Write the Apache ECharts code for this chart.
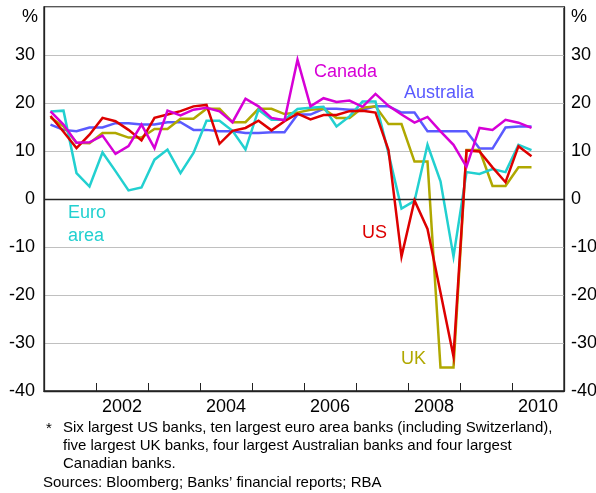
<!DOCTYPE html>
<html>
<head>
<meta charset="utf-8">
<script src="https://cdn.jsdelivr.net/npm/echarts@6/dist/echarts.min.js"></script>
<style>
  html, body { margin: 0; padding: 0; background: #fff; }
  #chart { width: 596px; height: 493px; }
</style>
</head>
<body>
<div id="chart"></div>
<script>
// Return on equity of large banks, quarterly, per cent
const years = ['2001', '2002', '2003', '2004', '2005', '2006', '2007', '2008', '2009', '2010'];
const quarters = [];
years.forEach(y => { for (let q = 1; q <= 4; q++) quarters.push(y + ' Q' + q); });

const australia = [15.5, 14.4, 14.1, 14.9, 14.9, 15.8, 15.8, 15.5, 15.5, 16.0, 16.0, 14.4, 14.4, 14.1, 14.1, 13.75, 13.75, 13.9, 13.9, 17.6,
  17.6, 18.8, 18.8, 18.6, 18.6, 19.3, 19.3, 18.0, 18.0, 14.1, 14.1, 14.1, 14.1, 10.5, 10.5, 14.9, 15.1, 15.1];
const uk = [17.0, 15.1, 11.7, 11.6, 13.75, 13.75, 12.8, 12.8, 14.6, 14.6, 16.7, 16.7, 18.8, 18.8, 16.0, 16.0, 18.8, 18.8, 17.7, 18.0,
  18.6, 18.8, 16.9, 16.9, 19.0, 19.3, 15.6, 15.6, 7.8, 7.8, -35.1, -35.1, 10.2, 10.2, 2.7, 2.7, 6.6, 6.6];
const euroArea = [18.25, 18.4, 5.4, 2.6, 9.7, 5.8, 1.8, 2.4, 8.2, 10.3, 5.4, 9.6, 16.3, 16.3, 14.2, 10.3, 18.6, 16.5, 16.5, 18.75,
  19.0, 19.2, 15.1, 17.2, 20.3, 20.3, 9.5, -2.0, -0.4, 11.3, 3.7, -12.0, 5.6, 5.2, 6.25, 5.6, 11.3, 10.2];
const us = [17.3, 14.0, 10.6, 13.4, 16.9, 16.2, 14.4, 12.2, 16.9, 17.6, 18.3, 19.3, 19.6, 11.5, 14.2, 14.8, 16.3, 14.3, 16.2, 17.8,
  16.6, 17.5, 17.5, 18.3, 18.4, 18.0, 10.2, -12.0, -0.3, -6.25, -19.5, -32.8, 10.1, 9.9, 6.6, 3.5, 11.0, 8.9];
const canada = [18.25, 15.5, 11.7, 11.8, 13.2, 9.4, 11.0, 15.5, 10.6, 18.4, 17.4, 18.6, 19.0, 18.25, 16.0, 20.9, 19.3, 16.9, 16.4, 29.0,
  19.3, 21.0, 20.2, 20.5, 19.2, 21.9, 19.4, 17.6, 15.9, 17.1, 14.1, 11.3, 6.7, 14.8, 14.4, 16.5, 15.9, 14.8];

const yTicks = [-40, -30, -20, -10, 0, 10, 20, 30, 40];

const COLORS = {
  australia: '#5a5aff',
  uk: '#b0a800',
  euro: '#22d0d0',
  us: '#dd0000',
  canada: '#d600d6'
};

const FONT = 'Liberation Sans, Arial, sans-serif';
const chart = echarts.init(document.getElementById('chart'), null, { renderer: 'canvas' });

function yAxisDef(pos) {
  return {
    type: 'value',
    position: pos,
    min: yTicks[0],
    max: yTicks[yTicks.length - 1],
    interval: 10,
    axisLine: { show: true, onZero: false, lineStyle: { color: '#222', width: 1.3 } },
    axisTick: { show: false },
    splitLine: pos === 'left' ? { show: true, lineStyle: { color: '#c0c0c0', width: 1 } } : { show: false },
    axisLabel: {
      color: '#000',
      fontFamily: FONT,
      fontSize: 18,
      margin: pos === 'left' ? 9 : 7,
      formatter: v => (v === 40 ? '' : String(v))
    }
  };
}

function line(name, data, color, z) {
  return {
    name, type: 'line', data, xAxisIndex: 1, yAxisIndex: 0,
    symbol: 'none', z,
    lineStyle: { color, width: 2.5, join: 'miter' },
    animation: false
  };
}

function label(text, x, y, color) {
  return { type: 'text', left: x, top: y, style: { text, fill: color, font: '18px ' + FONT } };
}

function note(text, x, y) {
  return { type: 'text', left: x, top: y, style: { text, fill: '#000', font: '15px ' + FONT } };
}

chart.setOption({
  animation: false,
  grid: {
    left: 44, right: 32, top: 7, bottom: 102,
    containLabel: false, outerBoundsMode: 'none',
    show: true, borderColor: '#222', borderWidth: 1.3
  },
  xAxis: [
    {
      type: 'category',
      data: years,
      position: 'bottom',
      boundaryGap: true,
      axisLine: { show: true, onZero: false, lineStyle: { color: '#222', width: 1.3 } },
      axisTick: { show: true, inside: true, length: 8, interval: 0, lineStyle: { color: '#222' } },
      axisLabel: {
        color: '#000', fontFamily: FONT, fontSize: 18, margin: 7,
        interval: i => i % 2 === 1
      },
      splitLine: { show: false }
    },
    {
      type: 'category',
      data: quarters,
      boundaryGap: true,
      show: false
    }
  ],
  yAxis: [yAxisDef('left'), yAxisDef('right')],
  series: [
    line('Australia', australia, COLORS.australia, 2),
    line('UK', uk, COLORS.uk, 3),
    line('Euro area', euroArea, COLORS.euro, 4),
    line('US', us, COLORS.us, 5),
    line('Canada', canada, COLORS.canada, 6),
    {
      type: 'line', xAxisIndex: 1, yAxisIndex: 0, data: [], symbol: 'none', z: 1,
      markLine: {
        silent: true, symbol: 'none', label: { show: false },
        lineStyle: { color: '#222', width: 1.3, type: 'solid' },
        data: [{ yAxis: 0 }]
      }
    }
  ],
  graphic: [
    { type: 'text', left: 22, top: 8, style: { text: '%', fill: '#000', font: '18px ' + FONT } },
    { type: 'text', left: 571, top: 8, style: { text: '%', fill: '#000', font: '18px ' + FONT } },
    label('Canada', 314, 63, COLORS.canada),
    label('Australia', 404, 84, COLORS.australia),
    label('Euro', 68, 204, COLORS.euro),
    label('area', 68, 227, COLORS.euro),
    label('US', 362, 224, COLORS.us),
    label('UK', 401, 350, COLORS.uk),
    note('*', 46, 421),
    note('Six largest US banks, ten largest euro area banks (including Switzerland),', 63, 420),
    note('five largest UK banks, four largest Australian banks and four largest', 63, 438),
    note('Canadian banks.', 63, 456),
    note('Sources: Bloomberg; Banks\u2019 financial reports; RBA', 43, 475)
  ]
});
</script>
</body>
</html>
